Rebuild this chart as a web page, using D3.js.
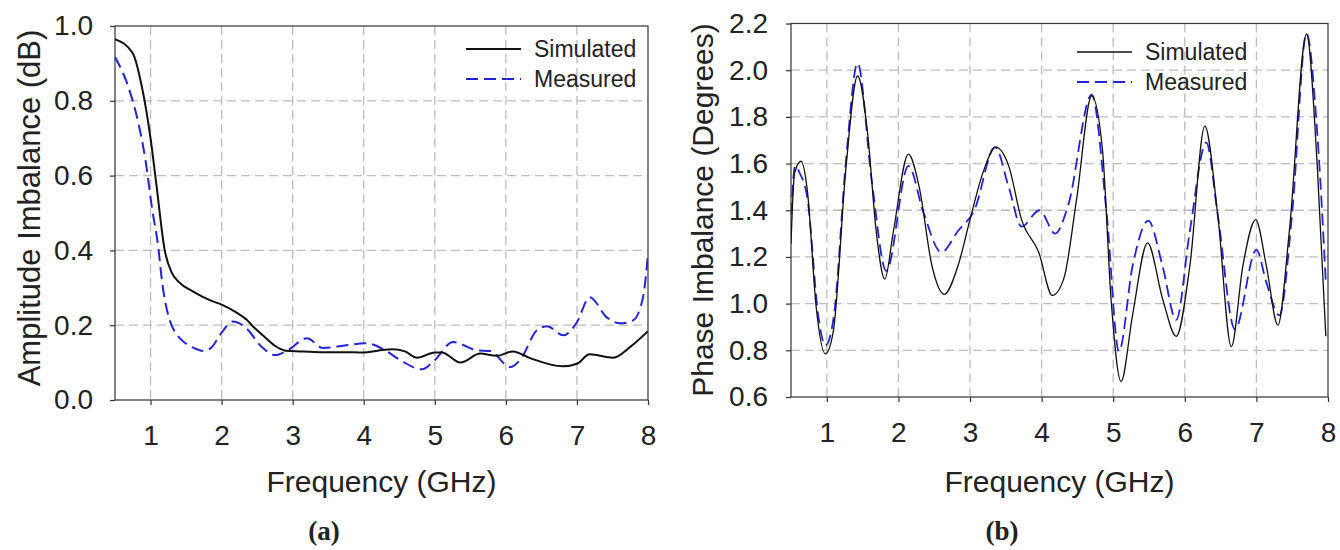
<!DOCTYPE html>
<html>
<head>
<meta charset="utf-8">
<script src="https://cdn.jsdelivr.net/npm/d3@7/dist/d3.min.js"></script>
<style>
html, body { margin: 0; padding: 0; background: #fff; }
svg text { font-family: "Liberation Sans", Arial, sans-serif; fill: #222; }
.grid line { stroke: #bdbdbd; stroke-width: 1.3; stroke-dasharray: 9,5; }
.frame { fill: none; stroke: #333; stroke-width: 1.2; }
.tick line { stroke: #333; stroke-width: 1.2; }
.sim { fill: none; stroke: #111; }
.meas { fill: none; stroke: #2323d8; stroke-dasharray: 12,6; }
.panel { font-family: "Liberation Serif", "Times New Roman", serif; font-weight: bold; }
</style>
</head>
<body>
<svg id="chart" width="1340" height="550"></svg>
<script>
(function(){
// ---- data ----
var freqTicks = [1, 2, 3, 4, 5, 6, 7, 8];
var ampTicks = [0.0, 0.2, 0.4, 0.6, 0.8, 1.0];
var phaseTicks = [0.6, 0.8, 1.0, 1.2, 1.4, 1.6, 1.8, 2.0, 2.2];

// (a) amplitude imbalance, dB
var ampSimFreq = [0.5, 0.75, 0.87, 1.0, 1.08, 1.2, 1.3, 1.4, 1.6, 1.86, 2.0, 2.2, 2.35, 2.45, 2.61, 2.75, 2.9, 3.1, 3.4, 3.7, 4.0, 4.2, 4.41, 4.58, 4.75, 5.0, 5.1, 5.36, 5.64, 5.87, 6.1, 6.34, 6.8, 7.0, 7.18, 7.51, 7.75, 8.0];
var ampSim = [0.965, 0.927, 0.845, 0.70, 0.58, 0.40, 0.34, 0.315, 0.29, 0.265, 0.255, 0.235, 0.215, 0.195, 0.168, 0.145, 0.132, 0.13, 0.128, 0.128, 0.127, 0.132, 0.136, 0.13, 0.113, 0.127, 0.127, 0.1, 0.124, 0.118, 0.13, 0.112, 0.09, 0.097, 0.122, 0.113, 0.142, 0.184];
var ampMeasFreq = [0.5, 0.69, 0.81, 0.93, 1.02, 1.11, 1.16, 1.27, 1.35, 1.44, 1.6, 1.75, 1.86, 2.0, 2.16, 2.33, 2.57, 2.75, 2.93, 3.2, 3.43, 3.78, 4.02, 4.3, 4.51, 4.82, 4.97, 5.26, 5.59, 5.78, 6.06, 6.2, 6.44, 6.58, 6.81, 7.0, 7.18, 7.42, 7.61, 7.79, 7.93, 8.0];
var ampMeas = [0.917, 0.836, 0.756, 0.64, 0.514, 0.407, 0.32, 0.213, 0.18, 0.16, 0.14, 0.131, 0.141, 0.18, 0.21, 0.195, 0.141, 0.12, 0.133, 0.165, 0.139, 0.147, 0.152, 0.133, 0.107, 0.082, 0.101, 0.155, 0.133, 0.131, 0.088, 0.107, 0.187, 0.197, 0.173, 0.208, 0.275, 0.221, 0.205, 0.213, 0.275, 0.39];

// (b) phase imbalance, degrees
var phaseSimFreq = [0.5, 0.55, 0.64, 0.73, 0.85, 0.98, 1.09, 1.27, 1.43, 1.57, 1.69, 1.81, 1.93, 2.14, 2.29, 2.47, 2.64, 2.83, 3.0, 3.18, 3.36, 3.54, 3.72, 3.96, 4.15, 4.31, 4.49, 4.7, 4.85, 4.97, 5.11, 5.27, 5.48, 5.69, 5.88, 6.07, 6.28, 6.46, 6.65, 6.81, 6.99, 7.14, 7.3, 7.46, 7.7, 7.85, 7.97];
var phaseSim = [1.256, 1.56, 1.61, 1.48, 0.99, 0.785, 0.88, 1.59, 1.975, 1.73, 1.31, 1.105, 1.31, 1.64, 1.5, 1.16, 1.04, 1.16, 1.36, 1.56, 1.67, 1.59, 1.36, 1.22, 1.035, 1.107, 1.45, 1.89, 1.66, 1.02, 0.667, 0.95, 1.26, 1.02, 0.86, 1.16, 1.76, 1.38, 0.816, 1.16, 1.36, 1.16, 0.908, 1.31, 2.155, 1.59, 0.86];
var phaseMeasFreq = [0.5, 0.56, 0.62, 0.73, 0.88, 0.98, 1.1, 1.27, 1.43, 1.63, 1.83, 2.14, 2.35, 2.6, 2.83, 3.06, 3.35, 3.54, 3.72, 3.97, 4.19, 4.37, 4.7, 4.91, 5.08, 5.27, 5.49, 5.69, 5.88, 6.07, 6.3, 6.46, 6.7, 7.0, 7.14, 7.32, 7.5, 7.7, 7.85, 7.97];
var phaseMeas = [1.38, 1.59, 1.56, 1.45, 0.95, 0.82, 0.95, 1.62, 2.03, 1.52, 1.14, 1.59, 1.39, 1.22, 1.31, 1.4, 1.67, 1.5, 1.33, 1.40, 1.30, 1.42, 1.895, 1.38, 0.795, 1.16, 1.355, 1.16, 0.93, 1.31, 1.69, 1.38, 0.89, 1.23, 1.09, 0.95, 1.39, 2.157, 1.73, 1.09];

var seriesNames = ["Simulated", "Measured"];

function zip(xs, ys){
	return xs.map(function(x, i){ return [x, ys[i]]; });
}

var svg = d3.select("#chart");

function drawPanel(cfg){
	var x = d3.scaleLinear().domain([0.5, 8]).range([cfg.left, cfg.right]);
	var y = d3.scaleLinear().domain(cfg.yDomain).range([cfg.bottom, cfg.top]);
	var g = svg.append("g");

	var clipId = "clip-" + cfg.id;
	g.append("clipPath").attr("id", clipId).append("rect")
			.attr("x", cfg.left).attr("y", cfg.top)
			.attr("width", cfg.right - cfg.left).attr("height", cfg.bottom - cfg.top);

	var grid = g.append("g").attr("class", "grid");
	grid.selectAll(".gx").data(freqTicks.filter(function(t){ return t < 8; })).enter().append("line")
			.attr("x1", x).attr("x2", x)
			.attr("y1", cfg.top).attr("y2", cfg.bottom);
	grid.selectAll(".gy").data(cfg.yTicks.slice(1, -1)).enter().append("line")
			.attr("x1", cfg.left).attr("x2", cfg.right)
			.attr("y1", y).attr("y2", y);

	var xAxis = g.append("g").attr("transform", "translate(0," + cfg.bottom + ")")
			.call(d3.axisBottom(x).tickValues(freqTicks).tickSize(5).tickPadding(20).tickFormat(d3.format("d")));
	var yAxis = g.append("g").attr("transform", "translate(" + cfg.left + ",0)")
			.call(d3.axisLeft(y).tickValues(cfg.yTicks).tickSize(5).tickPadding(cfg.yPad).tickFormat(d3.format(".1f")));
	[xAxis, yAxis].forEach(function(a){
		a.select(".domain").remove();
		a.selectAll("text").attr("font-size", 28).attr("font-family", null).attr("fill", "#222");
	});

	g.append("rect").attr("class", "frame")
			.attr("x", cfg.left).attr("y", cfg.top)
			.attr("width", cfg.right - cfg.left).attr("height", cfg.bottom - cfg.top);

	var line = d3.line().curve(d3.curveMonotoneX)
			.x(function(d){ return x(d[0]); })
			.y(function(d){ return y(d[1]); });
	var plot = g.append("g").attr("clip-path", "url(#" + clipId + ")");
	plot.append("path").attr("class", "meas").attr("stroke-width", cfg.measWidth)
			.attr("d", line(zip(cfg.measFreq, cfg.meas)));
	plot.append("path").attr("class", "sim").attr("stroke-width", cfg.simWidth)
			.attr("d", line(zip(cfg.simFreq, cfg.sim)));

	// legend
	var lg = g.append("g").attr("transform", "translate(" + cfg.legendX + "," + cfg.legendY + ")");
	var items = lg.selectAll("g").data(seriesNames).enter().append("g")
			.attr("transform", function(d, i){ return "translate(0," + (i * 30) + ")"; });
	items.append("line")
			.attr("x1", 0).attr("x2", 55).attr("y1", 0).attr("y2", 0)
			.attr("class", function(d, i){ return i ? "meas" : "sim"; })
			.attr("stroke-width", function(d, i){ return i ? cfg.measWidth : cfg.simWidth; });
	items.append("text")
			.attr("x", 68).attr("y", 8)
			.attr("font-size", 23)
			.text(function(d){ return d; });

	// axis titles
	g.append("text")
			.attr("transform", "translate(" + cfg.yTitleX + "," + cfg.yTitleY + ") rotate(-90)")
			.attr("text-anchor", "middle").attr("dy", "0.35em")
			.attr("font-size", cfg.yTitleSize)
			.text(cfg.yTitle);
	g.append("text")
			.attr("x", (cfg.left + cfg.right) / 2).attr("y", 492)
			.attr("text-anchor", "middle")
			.attr("font-size", 30)
			.text("Frequency (GHz)");
	g.append("text").attr("class", "panel")
			.attr("x", cfg.panelX).attr("y", 540)
			.attr("text-anchor", "middle")
			.attr("font-size", 27)
			.text(cfg.panel);
}

drawPanel({
	id: "a", left: 115, right: 648, top: 26, bottom: 400,
	yDomain: [0, 1], yTicks: ampTicks, yPad: 17,
	simFreq: ampSimFreq, sim: ampSim, measFreq: ampMeasFreq, meas: ampMeas,
	simWidth: 2, measWidth: 2,
	legendX: 466, legendY: 49,
	yTitle: "Amplitude Imbalance (dB)", yTitleX: 29, yTitleY: 208, yTitleSize: 31,
	panel: "(a)", panelX: 324
});
drawPanel({
	id: "b", left: 791, right: 1328, top: 23.5, bottom: 397,
	yDomain: [0.6, 2.2], yTicks: phaseTicks, yPad: 18,
	simFreq: phaseSimFreq, sim: phaseSim, measFreq: phaseMeasFreq, meas: phaseMeas,
	simWidth: 1.3, measWidth: 1.8,
	legendX: 1077, legendY: 52,
	yTitle: "Phase Imbalance (Degrees)", yTitleX: 702, yTitleY: 210, yTitleSize: 30,
	panel: "(b)", panelX: 1002
});
})();
</script>
</body>
</html>
